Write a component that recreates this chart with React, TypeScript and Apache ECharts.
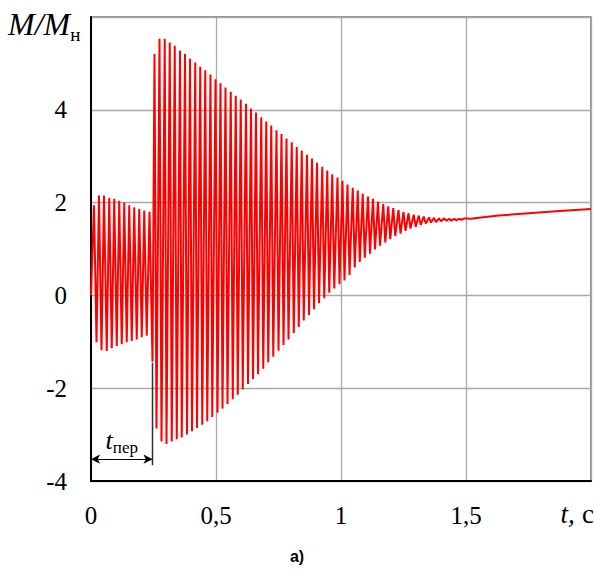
import React, { useEffect, useRef } from "react";
import * as echarts from "echarts";

// Segment 1: before switching (t < t_пер)
const t1Max = [0.012, 0.032, 0.052, 0.073, 0.093, 0.113, 0.133, 0.153, 0.173, 0.193, 0.213, 0.234];
const m1Max = [1.94, 2.15, 2.15, 2.1, 2.08, 2.04, 2.0, 1.94, 1.9, 1.86, 1.83, 1.8];
const t1Min = [0.022, 0.042, 0.063, 0.083, 0.103, 0.123, 0.143, 0.163, 0.183, 0.203, 0.223, 0.246];
const m1Min = [-1.01, -1.18, -1.2, -1.14, -1.09, -1.05, -1.01, -0.98, -0.95, -0.9, -0.87, -1.43];

// Segment 2: after switching
const t2Max = [
  0.254, 0.274, 0.295, 0.315, 0.335, 0.356, 0.376, 0.396, 0.417, 0.437,
  0.457, 0.478, 0.498, 0.518, 0.538, 0.559, 0.579, 0.599, 0.62, 0.64,
  0.66, 0.681, 0.701, 0.721, 0.742, 0.762, 0.782, 0.803, 0.823, 0.843,
  0.864, 0.884, 0.904, 0.925, 0.945, 0.965, 0.986, 1.006, 1.026, 1.047,
  1.067, 1.087, 1.108, 1.128, 1.148, 1.169, 1.189, 1.209, 1.23, 1.25,
  1.27, 1.291, 1.311, 1.331, 1.352, 1.372, 1.392, 1.413, 1.433, 1.453,
  1.474, 1.494,
];
const m2Max = [
  5.2, 5.53, 5.53, 5.45, 5.38, 5.28, 5.2, 5.1, 5.02, 4.93,
  4.85, 4.76, 4.66, 4.57, 4.48, 4.39, 4.3, 4.22, 4.13, 4.03,
  3.94, 3.84, 3.75, 3.66, 3.56, 3.48, 3.38, 3.3, 3.2, 3.12,
  3.03, 2.95, 2.86, 2.77, 2.69, 2.61, 2.54, 2.47, 2.39, 2.32,
  2.26, 2.19, 2.13, 2.08, 2.02, 1.97, 1.92, 1.88, 1.84, 1.8,
  1.77, 1.74, 1.72, 1.7, 1.68, 1.67, 1.66, 1.66, 1.65, 1.65,
  1.65, 1.66,
];
const t2Min = [
  0.262, 0.282, 0.302, 0.323, 0.343, 0.363, 0.384, 0.404, 0.424, 0.445,
  0.465, 0.485, 0.506, 0.526, 0.546, 0.567, 0.587, 0.607, 0.628, 0.648,
  0.668, 0.689, 0.709, 0.729, 0.75, 0.77, 0.79, 0.811, 0.831, 0.851,
  0.872, 0.892, 0.912, 0.933, 0.953, 0.973, 0.994, 1.014, 1.034, 1.055,
  1.075, 1.095, 1.116, 1.136, 1.156, 1.177, 1.197, 1.217, 1.238, 1.258,
  1.278, 1.299, 1.319, 1.339, 1.36, 1.38, 1.4, 1.421, 1.441, 1.461,
  1.482,
];
const m2Min = [
  -2.87, -3.15, -3.2, -3.15, -3.1, -3.06, -3.0, -2.93, -2.86, -2.79,
  -2.71, -2.62, -2.53, -2.44, -2.34, -2.24, -2.14, -2.03, -1.91, -1.8,
  -1.7, -1.58, -1.44, -1.32, -1.19, -1.07, -0.95, -0.81, -0.68, -0.54,
  -0.42, -0.3, -0.17, -0.06, 0.06, 0.15, 0.24, 0.32, 0.44, 0.6,
  0.72, 0.81, 0.9, 0.99, 1.07, 1.14, 1.21, 1.28, 1.33, 1.39,
  1.44, 1.48, 1.52, 1.55, 1.57, 1.58, 1.6, 1.61, 1.61, 1.62,
  1.63,
];

// Settled tail
const tailT = [1.52, 1.56, 1.63, 1.75, 1.875, 2.0];
const tailM = [1.65, 1.68, 1.72, 1.77, 1.82, 1.86];

// Switching-time marker t_пер
const tSwitch = 0.246;
const markerTop = -1.45;
const markerBottom = -3.66;
const arrowLevel = -3.53;

const xTicks = [0, 0.5, 1, 1.5];
const xTickText = ["0", "0,5", "1", "1,5"];

const SERIF = "'Liberation Serif', 'Times New Roman', serif";

function buildData(): number[][] {
  const d: number[][] = [[0, 0]];
  for (let i = 0; i < t1Max.length; i++) {
    d.push([t1Max[i], m1Max[i]]);
    d.push([t1Min[i], m1Min[i]]);
  }
  for (let k = 0; k < t2Max.length; k++) {
    d.push([t2Max[k], m2Max[k]]);
    if (k < t2Min.length) d.push([t2Min[k], m2Min[k]]);
  }
  for (let i = 0; i < tailT.length; i++) d.push([tailT[i], tailM[i]]);
  return d;
}

export default function App() {
  const ref = useRef<HTMLDivElement>(null);
  useEffect(() => {
    if (!ref.current) return;
    const chart = echarts.init(ref.current, null, { renderer: "svg" });
    chart.setOption({
      animation: false,
      backgroundColor: "#ffffff",
      grid: {
        left: 91,
        right: 2,
        top: 17,
        bottom: 88,
        show: true,
        borderColor: "#707070",
        borderWidth: 1.5,
      },
      xAxis: {
        type: "value",
        min: 0,
        max: 2,
        interval: 0.5,
        axisLine: { show: true, onZero: false, lineStyle: { color: "#000", width: 2 } },
        axisTick: { show: false },
        splitLine: { show: true, lineStyle: { color: "#a8a8a8", width: 1.3 } },
        axisLabel: {
          margin: 22,
          fontFamily: SERIF,
          fontSize: 25,
          color: "#000",
          formatter: (v: number) => {
            const i = xTicks.indexOf(v);
            return i >= 0 ? xTickText[i] : "";
          },
        },
      },
      yAxis: {
        type: "value",
        min: -4,
        max: 6,
        interval: 2,
        axisLine: { show: true, onZero: false, lineStyle: { color: "#000", width: 2 } },
        axisTick: { show: false },
        splitLine: { show: true, lineStyle: { color: "#a8a8a8", width: 1.3 } },
        axisLabel: {
          margin: 24,
          fontFamily: SERIF,
          fontSize: 25,
          color: "#000",
          formatter: (v: number) => (v >= 6 ? "" : String(v)),
        },
      },
      series: [
        {
          type: "line",
          data: [
            [tSwitch, markerTop],
            [tSwitch, markerBottom],
          ],
          showSymbol: false,
          lineStyle: { color: "#303030", width: 1.5 },
          z: 1,
          markLine: {
            silent: true,
            symbol: ["arrow", "arrow"],
            symbolSize: [7, 9],
            lineStyle: { color: "#000", width: 1.2, type: "solid" },
            label: {
              show: true,
              position: "middle",
              distance: 3,
              formatter: "{t|t}{s|пер}",
              rich: {
                t: {
                  fontFamily: SERIF, fontStyle: "italic", fontSize: 26, color: "#000",
                  verticalAlign: "top",
                },
                s: {
                  fontFamily: SERIF, fontSize: 17, color: "#000",
                  verticalAlign: "top", padding: [12, 0, 0, 0],
                },
              },
            },
            data: [[{ coord: [0, arrowLevel] }, { coord: [tSwitch, arrowLevel] }]],
          },
        },
        {
          type: "line",
          data: buildData(),
          showSymbol: false,
          lineStyle: { color: "#ff0000", width: 2 },
          z: 3,
        },
      ],
      graphic: [
        {
          type: "text",
          left: 8,
          top: 8,
          style: {
            text: "{i|M/M}{s|н}",
            rich: {
              i: {
                fontFamily: SERIF, fontStyle: "italic", fontSize: 32, fill: "#000",
                verticalAlign: "top",
              },
              s: {
                fontFamily: SERIF, fontSize: 19, fill: "#000",
                verticalAlign: "top", padding: [17, 0, 0, 0],
              },
            },
          },
        },
        {
          type: "text",
          right: 0,
          top: 500,
          style: {
            text: "{i|t,} {n|с}",
            rich: {
              i: { fontFamily: SERIF, fontStyle: "italic", fontSize: 27, fill: "#000" },
              n: { fontFamily: SERIF, fontSize: 27, fill: "#000", padding: [0, 0, 0, 4] },
            },
          },
        },
        {
          type: "text",
          left: "center",
          top: 548,
          style: {
            text: "a)",
            fontFamily: "'Liberation Sans', Arial, sans-serif",
            fontWeight: "bold",
            fontSize: 16,
            fill: "#000",
          },
        },
      ],
    });
    return () => chart.dispose();
  }, []);
  return (
    <div
      ref={ref}
      style={{ position: "fixed", left: 0, top: 0, width: 594, height: 569 }}
    />
  );
}
